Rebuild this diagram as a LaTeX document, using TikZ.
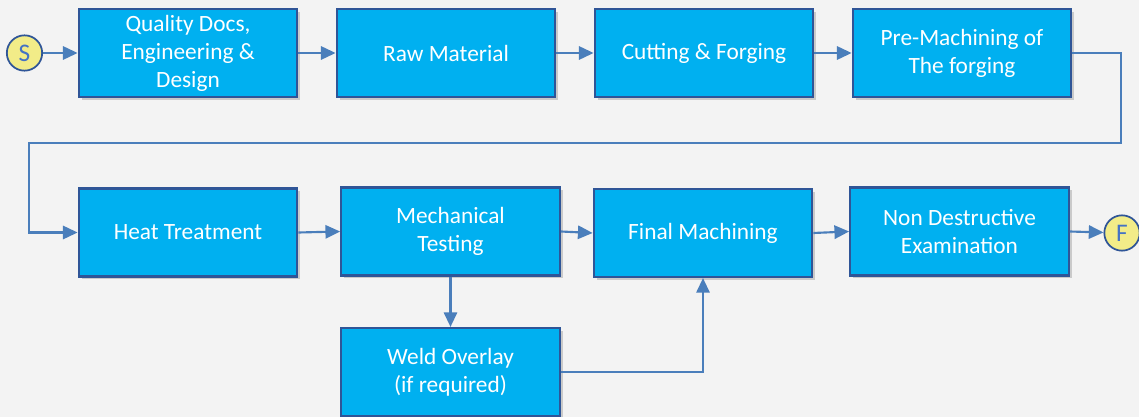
\documentclass[tikz,border=0pt]{standalone}
\usepackage{fontspec}
\setmainfont{Carlito}
\usetikzlibrary{arrows.meta,shadows}
\definecolor{bg}{HTML}{F3F3F3}
\definecolor{boxfill}{HTML}{00B0F0}
\definecolor{boxline}{HTML}{2F5597}
\definecolor{conn}{HTML}{4A7EBB}
\definecolor{circfill}{HTML}{F2EC88}
\definecolor{circtext}{HTML}{4472C4}
\tikzset{
  stepbox/.style={draw=boxline, line width=1.6pt, fill=boxfill, text=white,
    minimum width=164pt, minimum height=66pt, align=center, inner sep=2pt,
    font=\fontsize{17.5}{21}\selectfont,
    drop shadow={opacity=0.35, shadow xshift=2.2pt, shadow yshift=-2.2pt}},
  endpt/.style={circle, draw=boxline, line width=1.3pt, fill=circfill, text=circtext,
    minimum size=26.5pt, inner sep=0pt, font=\fontsize{19}{21}\selectfont},
  conn/.style={draw=conn, line width=1.6pt, -{Triangle[length=11pt,width=10pt]}},
  plain/.style={draw=conn, line width=1.6pt}
}
\begin{document}
\begin{tikzpicture}[x=0.75pt,y=-0.75pt]
\fill[bg] (0,0) rectangle (1139,417);
\useasboundingbox (0,0) rectangle (1139,417);
\node[endpt] (S) at (24.5,53) {S};
\node[stepbox] (B1) at (188,53) {Quality Docs,\\Engineering \&\\Design};
\node[stepbox] (B2) at (446,53) {Raw Material};
\node[stepbox] (B3) at (704,53) {Cutting \& Forging};
\node[stepbox] (B4) at (962,53) {Pre-Machining of\\The forging};
\node[stepbox] (B5) at (188,232.5) {Heat Treatment};
\node[stepbox] (B6) at (450.5,231.5) {Mechanical\\Testing};
\node[stepbox] (B7) at (703,233) {Final Machining};
\node[stepbox] (B8) at (959.5,231.5) {Non Destructive\\Examination};
\node[stepbox] (B9) at (450.5,372) {Weld Overlay\\(if required)};
\node[endpt] (F) at (1122,233) {F};
\coordinate (c1) at (1121,143);
\coordinate (c2) at (29,143);
\draw[conn] (S) -- (B1);
\draw[conn] (B1) -- (B2);
\draw[conn] (B2) -- (B3);
\draw[conn] (B3) -- (B4);
\draw[conn] (B4.east) -| (c1) -- (c2) |- (B5.west);
\draw[conn] (B5.east) -- (B6.west);
\draw[conn] (B6.east) -- (B7.west);
\draw[conn] (B7.east) -- (B8.west);
\draw[conn] (B8.east) -- (F);
\draw[conn] (B6.south) -- (B9.north);
\draw[conn] (B9.east) -| (B7.south);
\end{tikzpicture}
\end{document}
